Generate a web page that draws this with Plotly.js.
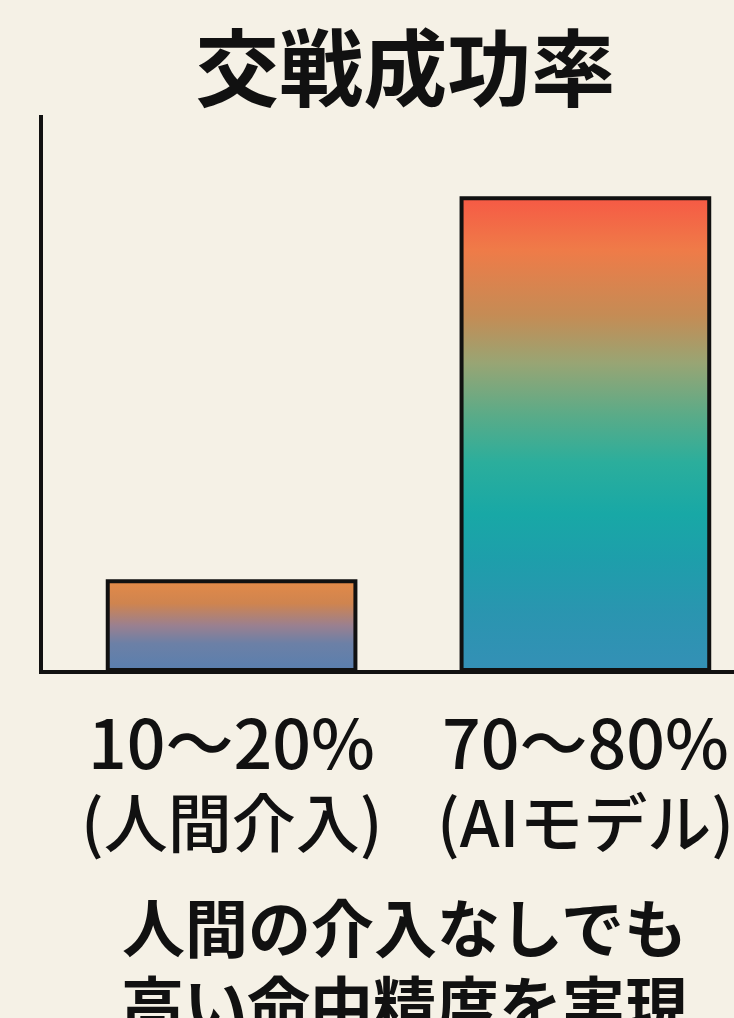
<!DOCTYPE html>
<html>
<head>
<meta charset="utf-8">
<script src="https://cdn.plot.ly/plotly-3.0.1.min.js"></script>
<style>
  html, body { margin: 0; padding: 0; background: #f5f1e6; }
  #chart { width: 734px; height: 1018px; }
</style>
</head>
<body>
<div id="chart"></div>
<script>
// ---- data ----
const categories = ["(人間介入)", "(AIモデル)"];
const rangeLabels = ["10〜20%", "70〜80%"];
const values = [16, 85];
const titleText = "交戦成功率";
const noteLines = ["人間の介入なしでも", "高い命中精度を実現"];

// ---- styling ----
const barWidth = 0.7;
const gradients = [
  [[0, '#5a7fae'], [0.3, '#6c80a6'], [0.5, '#9a8090'], [0.75, '#cf844f'], [1, '#e38a48']],
  [[0, '#3490b6'], [0.12, '#2a95b0'], [0.23, '#1e9eab'], [0.33, '#18a8a6'], [0.44, '#2bae9c'],
   [0.54, '#5aab88'], [0.65, '#98a574'], [0.75, '#c48c55'], [0.89, '#ef7b48'], [1, '#f65a45']]
];

const traces = values.map((v, i) => ({
  type: 'scatter',
  mode: 'lines',
  x: [i - barWidth / 2, i + barWidth / 2, i + barWidth / 2, i - barWidth / 2, i - barWidth / 2],
  y: [0, 0, v, v, 0],
  fill: 'toself',
  fillgradient: { type: 'vertical', colorscale: gradients[i] },
  line: { color: '#111', width: 4 },
  name: categories[i],
  hoverinfo: 'skip',
  showlegend: false
}));

const annotations = [];
rangeLabels.forEach((t, i) => {
  annotations.push({
    text: t, xref: 'x', yref: 'paper', x: i, y: -0.126,
    xanchor: 'center', yanchor: 'middle', showarrow: false,
    font: { size: 68, color: '#111', weight: 500 }
  });
  annotations.push({
    text: categories[i], xref: 'x', yref: 'paper', x: i, y: -0.268,
    xanchor: 'center', yanchor: 'middle', showarrow: false,
    font: { size: 64, color: '#111', weight: 500 }
  });
});
noteLines.forEach((t, j) => {
  annotations.push({
    text: '<b>' + t + '</b>', xref: 'paper', yref: 'paper',
    x: 0.523, xanchor: 'center',
    y: [-0.459, -0.597][j], yanchor: 'middle',
    showarrow: false,
    font: { size: 63, color: '#111' }
  });
});

const layout = {
  width: 734,
  height: 1018,
  paper_bgcolor: '#f5f1e6',
  plot_bgcolor: '#f5f1e6',
  margin: { l: 43, r: 0, t: 115, b: 348 },
  font: { family: '"Noto Sans CJK JP", "Noto Sans", sans-serif', color: '#111' },
  title: {
    text: '<b>' + titleText + '</b>',
    font: { size: 84, color: '#111', family: '"Noto Sans CJK JP", sans-serif' },
    xref: 'container', x: 0.552, xanchor: 'center',
    yref: 'container', y: 0.931, yanchor: 'middle'
  },
  xaxis: {
    range: [-0.533, 1.42],
    tickvals: values.map((_, i) => i),
    showticklabels: false,
    showline: true, linecolor: '#111', linewidth: 4,
    showgrid: false, zeroline: false, ticks: '',
    fixedrange: true
  },
  yaxis: {
    range: [0, 100],
    showline: true, linecolor: '#111', linewidth: 4,
    showgrid: false, zeroline: false, ticks: '', showticklabels: false,
    fixedrange: true
  },
  annotations: annotations
};

Plotly.newPlot('chart', traces, layout, { displayModeBar: false, staticPlot: true });
</script>
</body>
</html>
